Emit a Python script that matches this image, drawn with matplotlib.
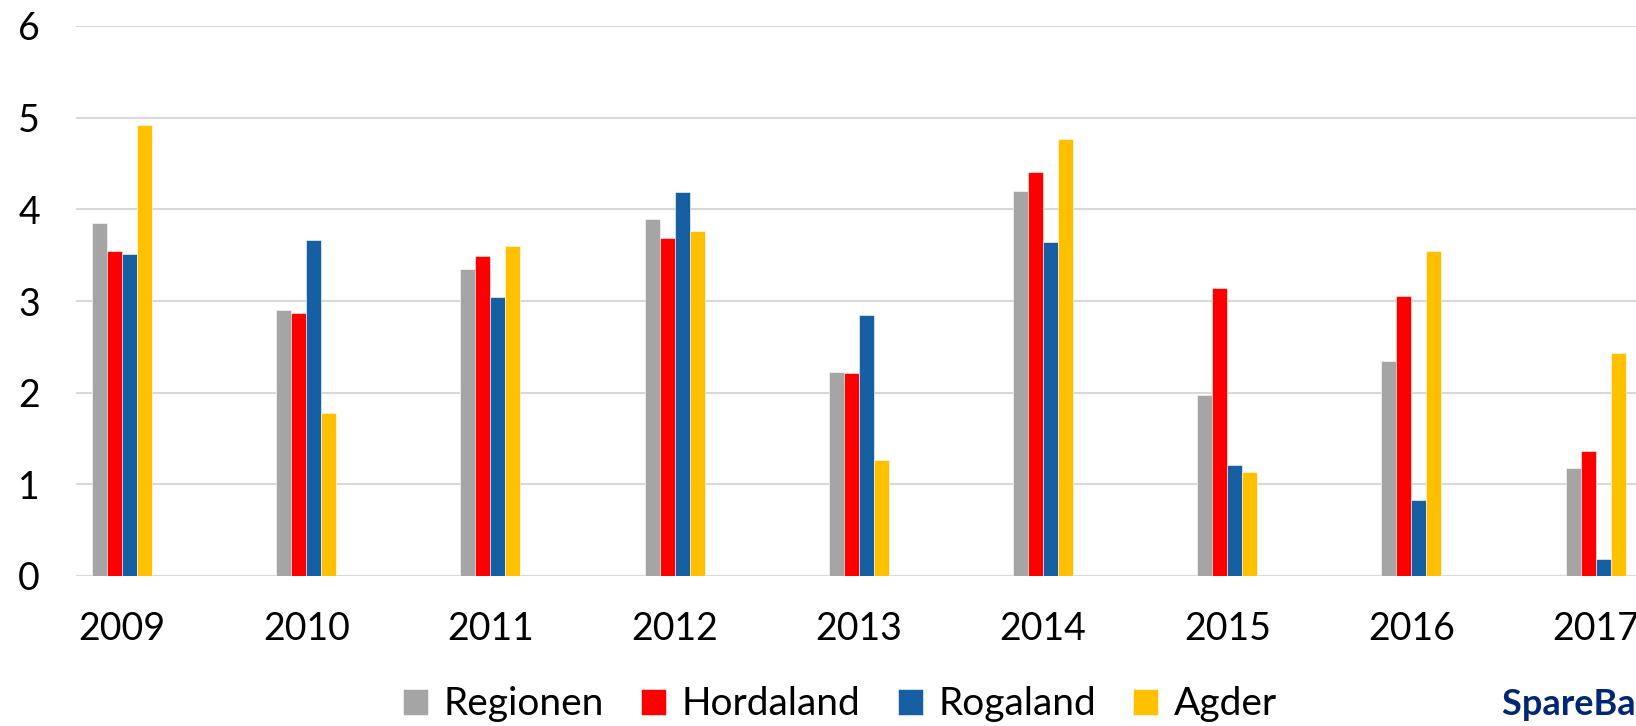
import matplotlib.pyplot as plt
import numpy as np

years = ['2009', '2010', '2011', '2012', '2013', '2014', '2015', '2016', '2017']
regionen = [3.85, 2.90, 3.35, 3.90, 2.23, 4.20, 1.97, 2.35, 1.18]
hordaland = [3.55, 2.87, 3.49, 3.69, 2.21, 4.41, 3.14, 3.05, 1.36]
rogaland = [3.51, 3.67, 3.04, 4.19, 2.85, 3.64, 1.21, 0.83, 0.19]
agder = [4.92, 1.78, 3.60, 3.76, 1.27, 4.77, 1.13, 3.55, 2.43]

series = [('Regionen', regionen, '#A5A5A5'),
          ('Hordaland', hordaland, '#FF0000'),
          ('Rogaland', rogaland, '#165FA3'),
          ('Agder', agder, '#FFC000')]

plt.rcParams['font.family'] = ['Lato', 'DejaVu Sans']

W, H = 1636, 726
fig = plt.figure(figsize=(W / 100, H / 100), dpi=100)
ax = fig.add_axes([76 / W, 1 - 576 / H, (W - 76) / W, (576 - 26) / H])

x = np.arange(len(years))
bw = 0.0815
for i, (name, vals, col) in enumerate(series):
    ax.bar(x + (i - 1.5) * bw, vals, width=bw, color=col, label=name,
           edgecolor='white', linewidth=0.4, zorder=3)

ax.set_xlim(-0.25, -0.25 + (W - 76) / 184.2)
ax.set_ylim(0, 6)
ax.set_yticks(range(0, 7))
ax.set_xticks(x)
ax.set_xticklabels(years)
ax.grid(axis='y', color='#D9D9D9', linewidth=1.5, zorder=0)
for s in ax.spines.values():
    s.set_visible(False)
ax.axhline(0, color='#D9D9D9', linewidth=1.5, zorder=1)
ax.tick_params(axis='both', length=0, labelsize=27, colors='black')
ax.tick_params(axis='y', pad=26)
ax.tick_params(axis='x', pad=25)

handles, labels = ax.get_legend_handles_labels()
fig.legend(handles, labels, loc='center', bbox_to_anchor=(0.5135, 0.03),
           ncol=4, frameon=False, fontsize=28, handlelength=0.65,
           handleheight=0.65, handletextpad=0.4, columnspacing=0.95)

# logo is cropped at the right edge in the original too
fig.text(1502 / W, 0.03, 'SpareBank 1', color='#002776', fontsize=26,
         fontweight='bold', va='center', ha='left')

fig.savefig('out.png', dpi=100)
